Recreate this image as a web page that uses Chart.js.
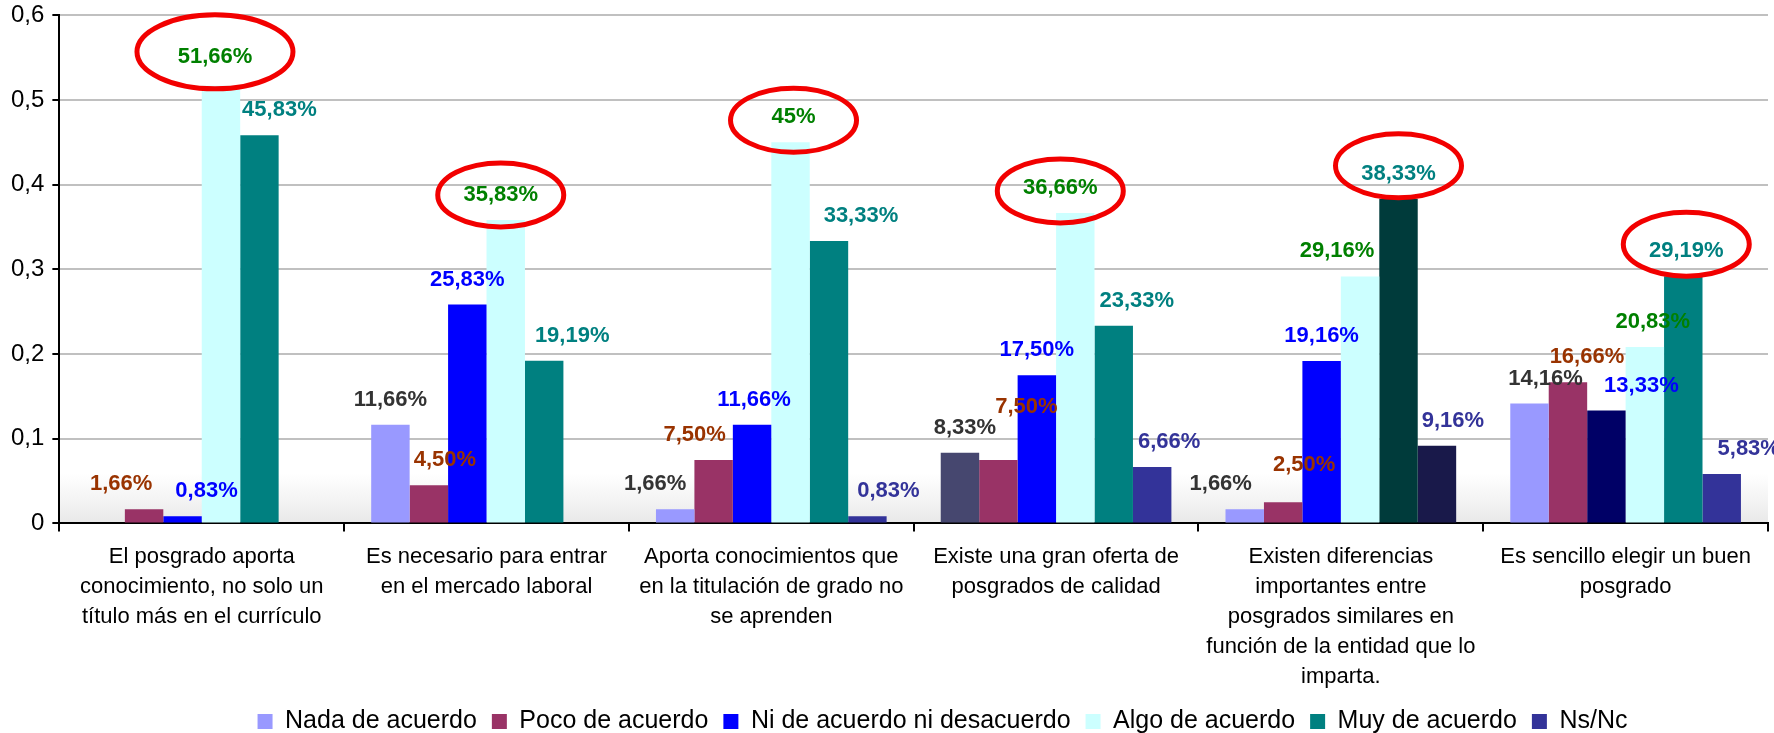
<!DOCTYPE html>
<html>
<head>
<meta charset="utf-8">
<script src="https://cdn.jsdelivr.net/npm/chart.js"></script>
<style>
html, body { margin: 0; padding: 0; background: #fff; }
</style>
</head>
<body>
<canvas id="myChart" width="1774" height="733"></canvas>
<script>
const categorias = [
    ["El posgrado aporta", "conocimiento, no solo un", "título más en el currículo"],
    ["Es necesario para entrar", "en el mercado laboral"],
    ["Aporta conocimientos que", "en la titulación de grado no", "se aprenden"],
    ["Existe una gran oferta de", "posgrados de calidad"],
    ["Existen diferencias", "importantes entre", "posgrados similares en", "función de la entidad que lo", "imparta."],
    ["Es sencillo elegir un buen", "posgrado"]
];
const series = ["Nada de acuerdo", "Poco de acuerdo", "Ni de acuerdo ni desacuerdo", "Algo de acuerdo", "Muy de acuerdo", "Ns/Nc"];

const nada = [0, 0.1166, 0.0166, 0.0833, 0.0166, 0.1416];
const poco = [0.0166, 0.045, 0.075, 0.075, 0.025, 0.1666];
const ni = [0.0083, 0.2583, 0.1166, 0.175, 0.1916, 0.1333];
const algo = [0.5166, 0.3583, 0.45, 0.3666, 0.2916, 0.2083];
const muy = [0.4583, 0.1919, 0.3333, 0.2333, 0.3833, 0.2919];
const nsnc = [0, 0, 0.0083, 0.0666, 0.0916, 0.0583];

const yTicks = [0, 0.1, 0.2, 0.3, 0.4, 0.5, 0.6];
// serie rodeada con el ovalo rojo en cada categoria
const destacados = [3, 3, 3, 3, 4, 4];

const valores = [nada, poco, ni, algo, muy, nsnc];
const colores = ["#9999FF", "#993366", "#0000FF", "#CCFFFF", "#008080", "#333399"];
const coloresTexto = ["#333333", "#993300", "#0000FF", "#008000", "#008080", "#333399"];
// barras sueltas que en el original tienen otro color (serie-categoria)
const coloresEspeciales = { "0-3": "#46476F", "2-5": "#000066", "4-4": "#003B3B", "5-4": "#19194A" };

// desplazamiento a mano de las etiquetas, como en el original
const moverX = [
    [0, 0, -20, 5, -24, 16],
    [-23, 16, -19, 28, 21, 19],
    [24, 0, 2, 0, 0, 35],
    [-6, -5, 3, -15, -23, 8],
    [20, 28, 32, 23, 0, 3],
    [0, 0, 21, 17, 16, 27]
];
const moverY = { "1-3": -28, "1-4": -12, "3-0": -4 };
// radio x, radio y y desplazamiento vertical de cada ovalo
const ovalos = [[78, 37, -5], [63, 32, 0], [63, 32, 3], [63, 32, 3], [63, 32, -8], [63, 32, -7]];

const fuente = "'Liberation Sans', Arial, sans-serif";

function porcentaje(v) {
    let t = (v * 100).toFixed(2);
    if (t.endsWith(".00")) t = t.slice(0, -3);
    return t.replace(".", ",") + "%";
}

const fondo = {
    id: "fondo",
    afterLayout(chart) {
        // la leyenda del original esta algo mas a la derecha
        const l = chart.legend;
        l.left += 57; l.right += 57;
        l.top -= 9; l.bottom -= 9;
    },
    beforeDraw(chart) {
        const ctx = chart.ctx;
        const a = chart.chartArea;
        ctx.save();
        ctx.fillStyle = "#fff";
        ctx.fillRect(0, 0, chart.width, chart.height);
        const g = ctx.createLinearGradient(0, a.bottom - 50, 0, a.bottom);
        g.addColorStop(0, "rgba(235,235,235,0)");
        g.addColorStop(1, "rgba(232,232,232,1)");
        ctx.fillStyle = g;
        ctx.fillRect(a.left, a.bottom - 50, a.right - a.left, 50);
        ctx.restore();
    }
};

const etiquetas = {
    id: "etiquetas",
    afterDatasetsDraw(chart) {
        const ctx = chart.ctx;
        ctx.save();
        ctx.font = "bold 22px " + fuente;
        ctx.textAlign = "center";
        ctx.textBaseline = "middle";
        valores.forEach((data, i) => {
            const meta = chart.getDatasetMeta(i);
            data.forEach((v, j) => {
                if (!v) return;
                const bar = meta.data[j];
                const x = bar.x + moverX[i][j];
                const y = bar.y - 25 + (moverY[i + "-" + j] || 0);
                ctx.fillStyle = coloresTexto[i];
                ctx.fillText(porcentaje(v), x, y);
                if (destacados[j] === i) {
                    const [rx, ry, dy] = ovalos[j];
                    ctx.beginPath();
                    ctx.ellipse(x, y + dy, rx, ry, 0, 0, Math.PI * 2);
                    ctx.strokeStyle = "#F20000";
                    ctx.lineWidth = 5;
                    ctx.stroke();
                }
            });
        });
        ctx.restore();
    }
};

const datasets = valores.map((data, i) => ({
    label: series[i],
    data: data,
    backgroundColor: data.map((v, j) => coloresEspeciales[i + "-" + j] || colores[i]),
    borderWidth: 0,
    categoryPercentage: 0.81,
    barPercentage: 1
}));

new Chart(document.getElementById("myChart"), {
    type: "bar",
    data: { labels: categorias, datasets },
    plugins: [fondo, etiquetas],
    options: {
        responsive: false,
        animation: false,
        devicePixelRatio: 1,
        layout: { padding: { top: 0, left: 3, right: 6, bottom: -20 } },
        plugins: {
            tooltip: { enabled: false },
            legend: {
                position: "bottom",
                labels: {
                    font: { family: fuente, size: 25 },
                    color: "#000",
                    boxWidth: 15,
                    boxHeight: 15,
                    padding: 15,
                    generateLabels: () => series.map((s, i) => ({
                        text: s,
                        fillStyle: colores[i],
                        strokeStyle: colores[i],
                        lineWidth: 0,
                        datasetIndex: i
                    }))
                }
            }
        },
        scales: {
            x: {
                ticks: { font: { family: fuente, size: 22, lineHeight: 1.36 }, color: "#000", padding: 11, maxRotation: 0, autoSkip: false },
                grid: { drawOnChartArea: false, offset: true, tickColor: "#000", tickLength: 8, lineWidth: 2 },
                border: { color: "#000", width: 2 }
            },
            y: {
                min: 0,
                max: 0.6,
                afterBuildTicks: (axis) => { axis.ticks = yTicks.map(v => ({ value: v })); },
                ticks: {
                    font: { family: fuente, size: 24, lineHeight: 0.6 },
                    color: "#000",
                    padding: 8,
                    callback: (v) => String(Math.round(v * 10) / 10).replace(".", ",")
                },
                grid: { color: "#C0C0C0", lineWidth: 2, tickColor: "#000", tickLength: 7 },
                border: { color: "#000", width: 2 }
            }
        }
    }
});
</script>
</body>
</html>
